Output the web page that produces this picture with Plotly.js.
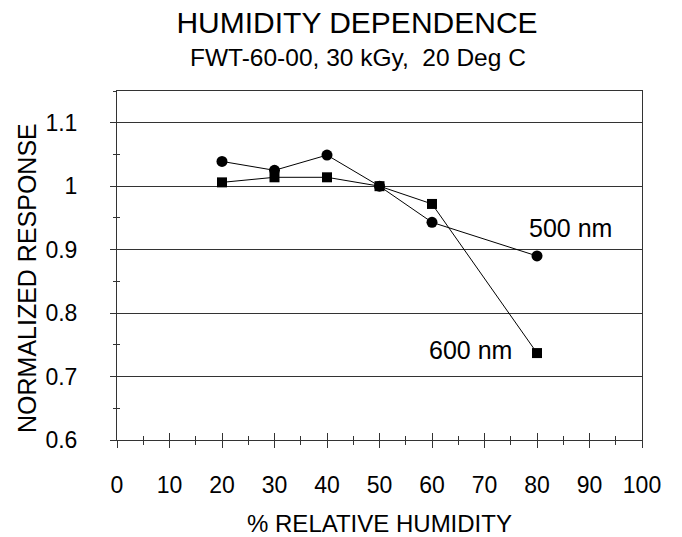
<!DOCTYPE html>
<html>
<head>
<meta charset="utf-8">
<script src="https://cdn.plot.ly/plotly-3.0.1.min.js"></script>
<style>html,body{margin:0;padding:0;background:#fff;}#chart{width:682px;height:537px;}</style>
</head>
<body>
<div id="chart"></div>
<script>
var humidity = [20, 30, 40, 50, 60, 80];
var resp500 = [1.039, 1.025, 1.049, 1.000, 0.943, 0.890];
var resp600 = [1.006, 1.014, 1.014, 1.000, 0.972, 0.737];
var seriesNames = ['500 nm', '600 nm'];
var xTicks = [0, 10, 20, 30, 40, 50, 60, 70, 80, 90, 100];
var yTicks = [0.6, 0.7, 0.8, 0.9, 1.0, 1.1];
var yTickText = ['0.6', '0.7', '0.8', '0.9', '1', '1.1'];

var FONT = 'Liberation Sans, Arial, Helvetica, sans-serif';
var AX = '#333';

var traces = [
  {x: humidity, y: resp500, name: seriesNames[0], type: 'scatter', mode: 'lines+markers',
   line: {color: '#000', width: 1}, marker: {symbol: 'circle', size: 11, color: '#000'}},
  {x: humidity, y: resp600, name: seriesNames[1], type: 'scatter', mode: 'lines+markers',
   line: {color: '#000', width: 1}, marker: {symbol: 'square', size: 10, color: '#000'}},
  // invisible trace to activate the overlay axes (inner half of crossing ticks)
  {x: [humidity[0]], y: [resp500[0]], xaxis: 'x2', yaxis: 'y2', type: 'scatter', mode: 'markers',
   marker: {opacity: 0}, hoverinfo: 'skip', showlegend: false}
];

var layout = {
  width: 682, height: 537,
  margin: {l: 117, r: 40, t: 91, b: 97},
  paper_bgcolor: '#fff', plot_bgcolor: '#fff',
  showlegend: false,
  font: {family: FONT, color: '#000'},
  title: {text: 'HUMIDITY DEPENDENCE', font: {family: FONT, size: 30, color: '#000'},
          x: 357 / 682, xanchor: 'center', xref: 'container',
          y: 1 - 22 / 537, yanchor: 'middle', yref: 'container'},
  xaxis: {
    range: [0, 100], tickvals: xTicks, ticktext: xTicks.map(String),
    ticks: 'outside', ticklen: 7, tickwidth: 1, tickcolor: AX,
    minor: {dtick: 5, tick0: 0, ticks: 'outside', ticklen: 4, tickcolor: AX, showgrid: false},
    showline: true, linecolor: AX, linewidth: 1, mirror: true,
    showgrid: false, zeroline: false,
    tickfont: {family: FONT, size: 23, color: '#000'},
    ticklabelstandoff: 17,
    title: {text: '% RELATIVE HUMIDITY', font: {family: FONT, size: 24, color: '#000'}, standoff: 27}
  },
  yaxis: {
    range: [0.6, 1.15], tickvals: yTicks, ticktext: yTickText,
    ticks: 'outside', ticklen: 6, tickwidth: 1, tickcolor: AX,
    minor: {dtick: 0.05, tick0: 0.6, ticks: 'outside', ticklen: 3, tickcolor: AX, showgrid: false},
    showline: true, linecolor: AX, linewidth: 1, mirror: true,
    showgrid: true, gridcolor: AX, gridwidth: 1, zeroline: false,
    tickfont: {family: FONT, size: 23, color: '#000'},
    ticklabelstandoff: 28
  },
  xaxis2: {
    overlaying: 'x', anchor: 'y2', side: 'bottom', range: [0, 100], tickvals: xTicks,
    showticklabels: false, ticks: 'inside', ticklen: 7, tickwidth: 1, tickcolor: AX,
    minor: {dtick: 5, tick0: 0, ticks: 'inside', ticklen: 4, tickcolor: AX, showgrid: false},
    showline: false, showgrid: false, zeroline: false
  },
  yaxis2: {
    overlaying: 'y', anchor: 'x2', side: 'left', range: [0.6, 1.15], tickvals: yTicks,
    showticklabels: false, ticks: 'inside', ticklen: 5, tickwidth: 1, tickcolor: AX,
    minor: {dtick: 0.05, tick0: 0.6, ticks: 'inside', ticklen: 3, tickcolor: AX, showgrid: false},
    showline: false, showgrid: false, zeroline: false
  },
  annotations: [
    {text: 'FWT-60-00, 30 kGy,&nbsp; 20 Deg C', xref: 'paper', yref: 'paper',
     x: (357.5 - 117) / 525, y: 1 + (91 - 57.5) / 349, xanchor: 'center', yanchor: 'middle',
     showarrow: false, font: {family: FONT, size: 24.5, color: '#000'}},
    {text: 'NORMALIZED RESPONSE', xref: 'paper', yref: 'paper', textangle: -90,
     x: (27 - 117) / 525, y: (440 - 278) / 349, xanchor: 'center', yanchor: 'middle',
     showarrow: false, font: {family: FONT, size: 25, color: '#000'}},
    {text: seriesNames[0], xref: 'x', yref: 'y', x: 86.3, y: 0.934, xanchor: 'center', yanchor: 'middle',
     showarrow: false, font: {family: FONT, size: 25, color: '#000'}},
    {text: seriesNames[1], xref: 'x', yref: 'y', x: 67.3, y: 0.742, xanchor: 'center', yanchor: 'middle',
     showarrow: false, font: {family: FONT, size: 25, color: '#000'}}
  ]
};

Plotly.newPlot('chart', traces, layout, {displayModeBar: false, staticPlot: true});
</script>
</body>
</html>
